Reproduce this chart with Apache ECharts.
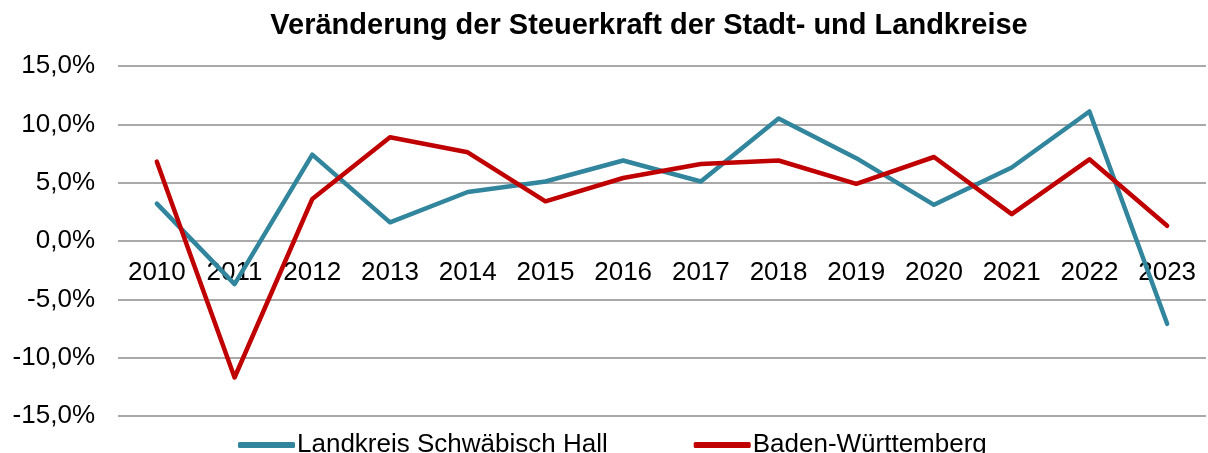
<!DOCTYPE html>
<html>
<head>
<meta charset="utf-8">
<script src="https://cdn.jsdelivr.net/npm/echarts@6/dist/echarts.min.js"></script>
<style>
  html, body { margin: 0; padding: 0; background: #fff; }
  #chart { width: 1208px; height: 453px; }
</style>
</head>
<body>
<div id="chart"></div>
<script>
// Daten (Veränderung in %)
const years = ['2010', '2011', '2012', '2013', '2014', '2015', '2016', '2017', '2018', '2019', '2020', '2021', '2022', '2023'];
const schwaebischHall = [3.2, -3.7, 7.4, 1.6, 4.2, 5.1, 6.9, 5.1, 10.5, 7.1, 3.1, 6.3, 11.1, -7.1];
const badenWuerttemberg = [6.8, -11.7, 3.6, 8.9, 7.6, 3.4, 5.4, 6.6, 6.9, 4.9, 7.2, 2.3, 7.0, 1.3];
const seriesNames = ['Landkreis Schwäbisch Hall', 'Baden-Württemberg'];

const font = '"Liberation Sans", Arial, sans-serif';
const chart = echarts.init(document.getElementById('chart'));

// Plot: top 66, Höhe 350 -> Nulllinie liegt 175px über dem unteren Rand
const gridTop = 66, gridBottom = 37, gridHeight = 453 - gridTop - gridBottom;

const option = {
  animation: false,
  title: {
    text: 'Veränderung der Steuerkraft der Stadt- und Landkreise',
    left: 644,
    textAlign: 'center',
    top: 6,
    textStyle: { fontFamily: font, fontSize: 29, fontWeight: 'bold', color: '#000' }
  },
  grid: { left: 118, right: 2, top: gridTop, bottom: gridBottom, containLabel: false, outerBoundsMode: 'none' },
  legend: {
    top: 427,
    left: 233,
    itemWidth: 57,
    itemHeight: 6,
    itemGap: 86,
    icon: 'roundRect',
    textStyle: { fontFamily: font, fontSize: 26, color: '#000', padding: [0, 0, 0, -3] },
    data: seriesNames
  },
  xAxis: {
    type: 'category',
    data: years,
    boundaryGap: true,
    offset: -gridHeight / 2,
    axisLine: { show: false, onZero: false },
    axisTick: { show: false },
    axisLabel: { fontFamily: font, fontSize: 26, color: '#000', margin: 19, interval: 0 }
  },
  yAxis: {
    type: 'value',
    min: -15,
    max: 15,
    interval: 5,
    axisLine: { show: false },
    axisTick: { show: false },
    splitLine: { lineStyle: { color: '#8c8c8c', width: 1.5 } },
    axisLabel: {
      fontFamily: font, fontSize: 26, color: '#000', margin: 23,
      formatter: v => v.toFixed(1).replace('.', ',') + '%'
    }
  },
  series: [
    {
      name: seriesNames[0],
      type: 'line',
      data: schwaebischHall,
      symbol: 'none',
      color: '#31859C',
      lineStyle: { width: 4.5, color: '#31859C', cap: 'round', join: 'round' }
    },
    {
      name: seriesNames[1],
      type: 'line',
      data: badenWuerttemberg,
      symbol: 'none',
      color: '#C00000',
      lineStyle: { width: 4.5, color: '#C00000', cap: 'round', join: 'round' }
    }
  ]
};
chart.setOption(option);
</script>
</body>
</html>
